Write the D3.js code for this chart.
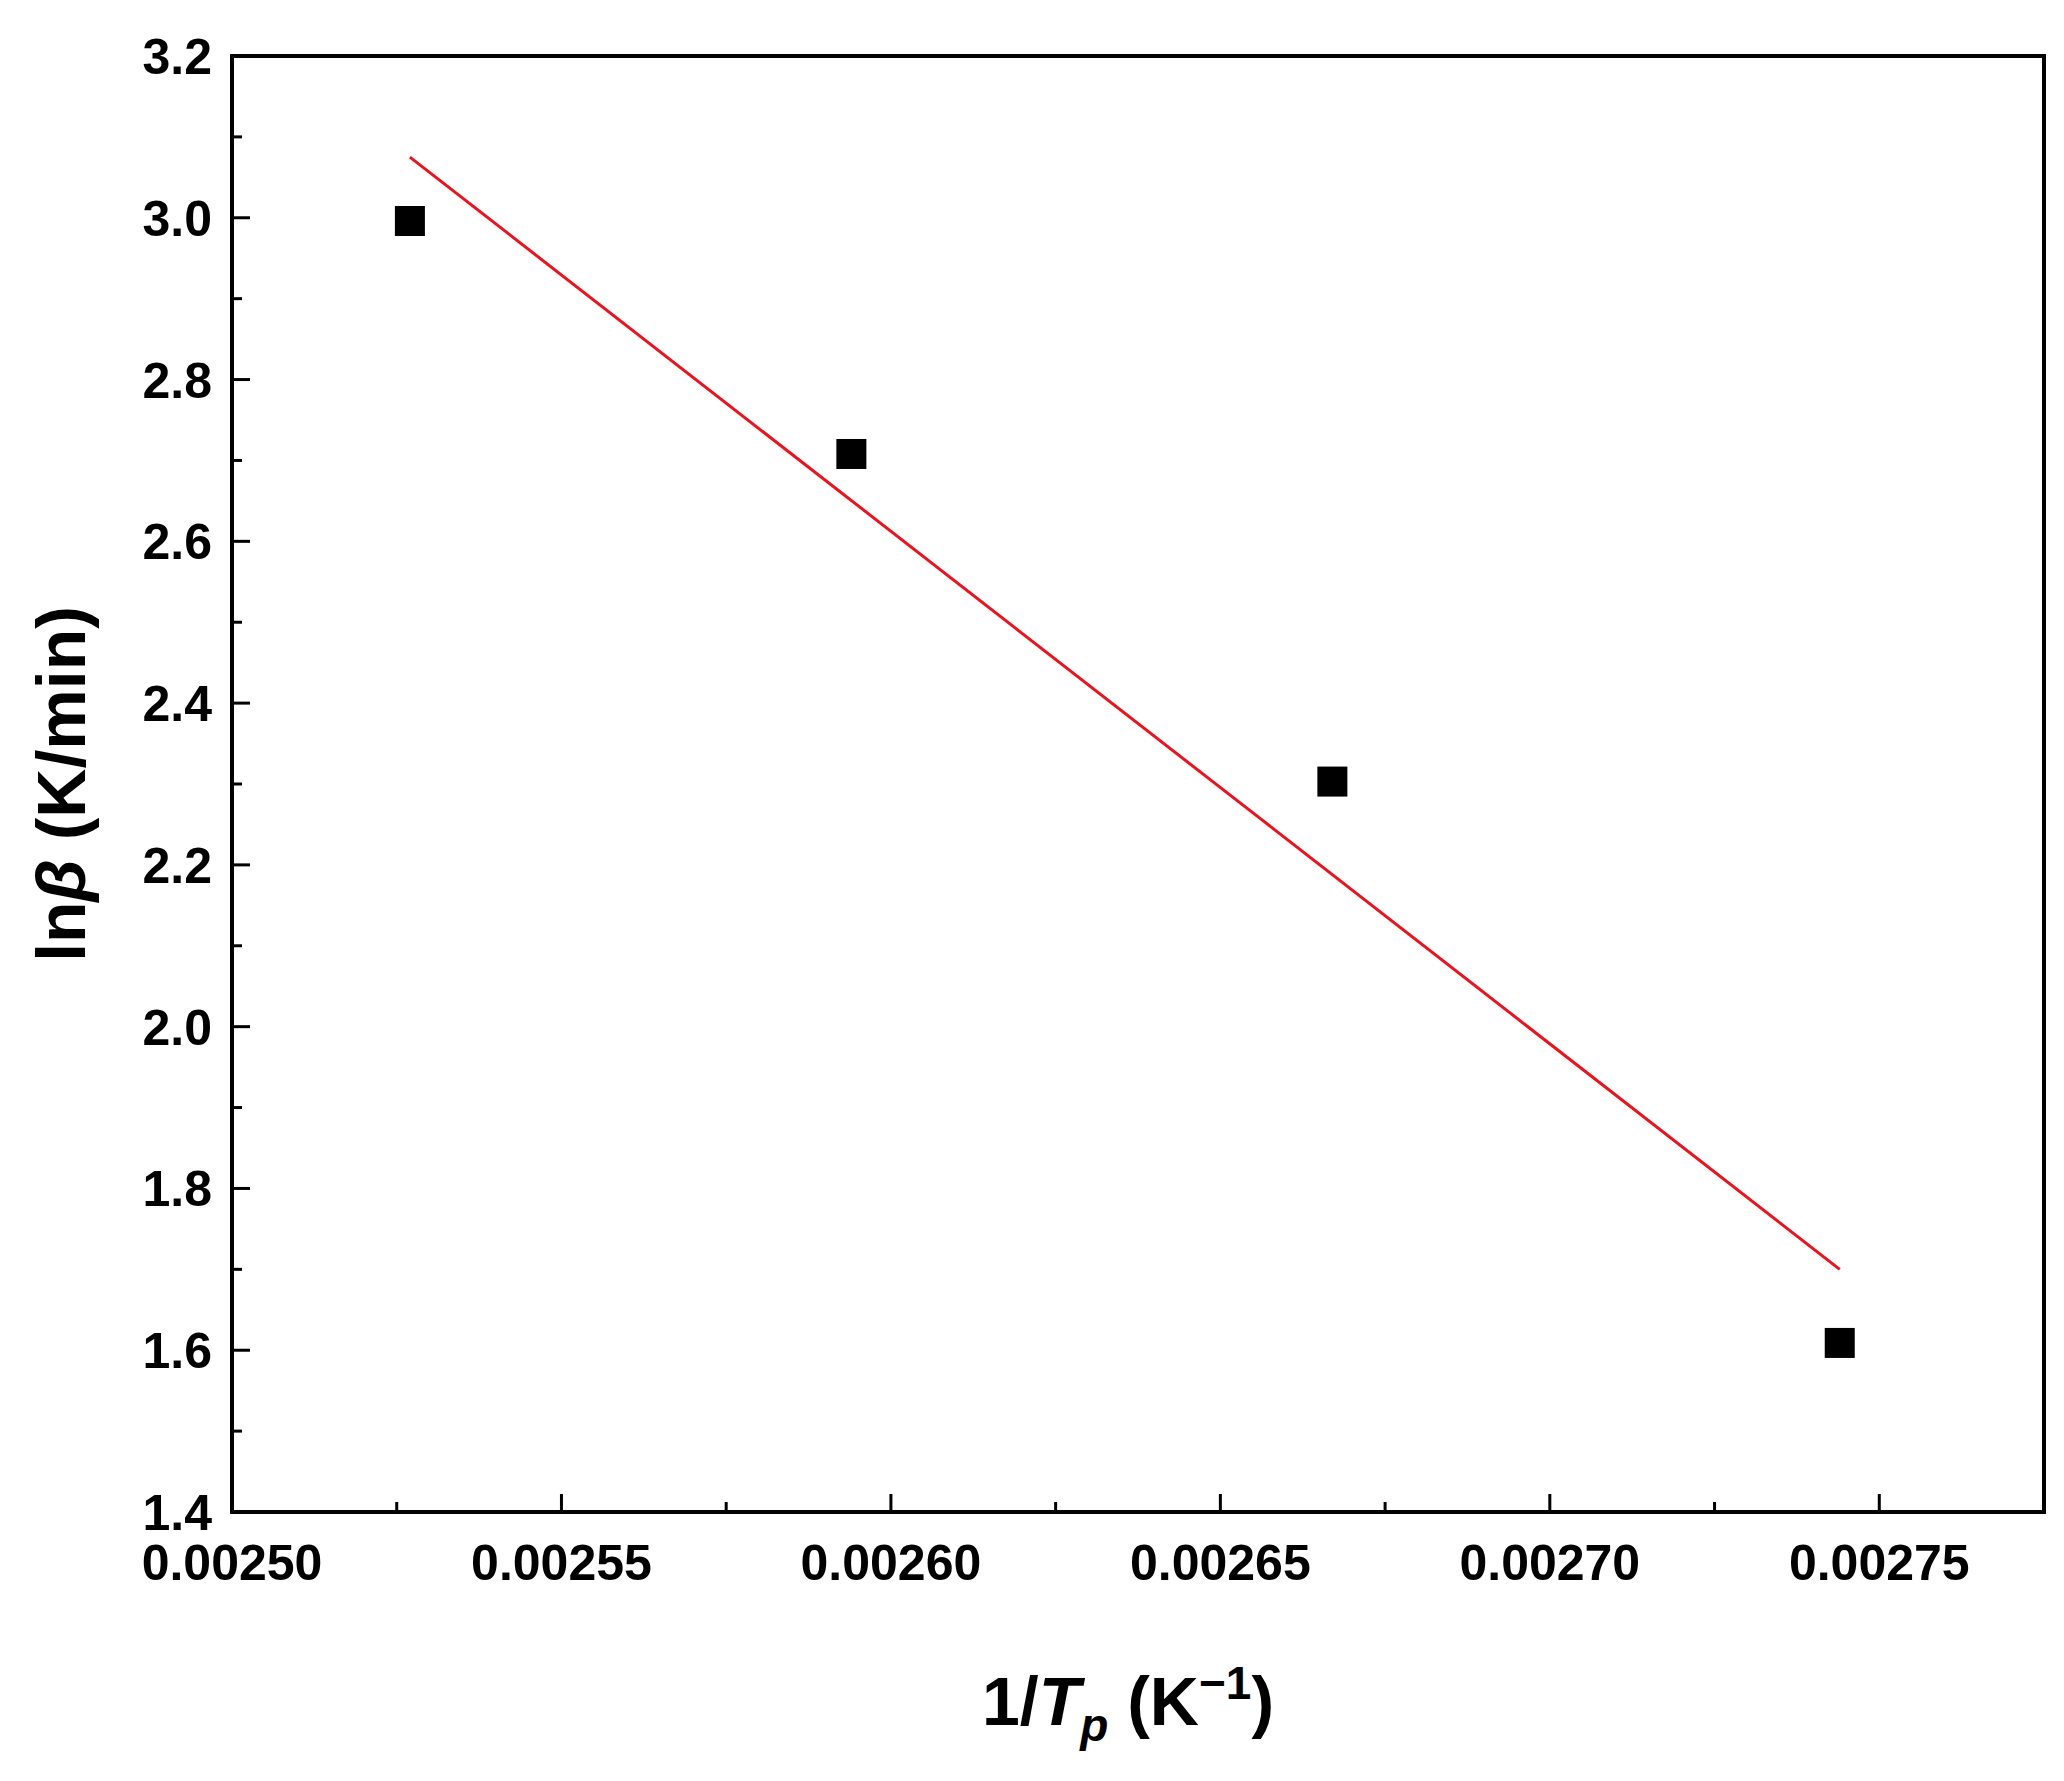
<!DOCTYPE html>
<html><head><meta charset="utf-8">
<script src="https://cdn.jsdelivr.net/npm/d3@7"></script>
<style>body{margin:0;background:#fff}</style></head>
<body><svg id="c" width="2064" height="1781"></svg>
<script>
const xVals=[0.002527,0.002594,0.002667,0.002744];
const yVals=[2.996,2.708,2.303,1.609];
const fitX=[0.002527,0.002744];
const fitY=[3.075,1.700];
const xTicks=[0.00250,0.00255,0.00260,0.00265,0.00270,0.00275];
const yTicks=[1.4,1.6,1.8,2.0,2.2,2.4,2.6,2.8,3.0,3.2];

const svg=d3.select("#c");
const L=232,R=2044,T=56,B=1512;
const x=d3.scaleLinear().domain([0.00250,0.002775]).range([L,R]);
const y=d3.scaleLinear().domain([1.4,3.2]).range([B,T]);
const font="'Liberation Sans',Arial,sans-serif";

const xMinor=d3.range(0,11).map(i=>0.002525+i*0.00005).filter(v=>v<0.002775);
const yMinor=d3.range(0,9).map(i=>1.5+i*0.2);
const g=svg.append("g");
g.selectAll(".xm").data(xMinor).join("line").attr("x1",d=>x(d)).attr("x2",d=>x(d)).attr("y1",B).attr("y2",B-10).attr("stroke","#000").attr("stroke-width",3);
g.selectAll(".xM").data(xTicks).join("line").attr("x1",d=>x(d)).attr("x2",d=>x(d)).attr("y1",B).attr("y2",B-18).attr("stroke","#000").attr("stroke-width",3);
g.selectAll(".ym").data(yMinor).join("line").attr("y1",d=>y(d)).attr("y2",d=>y(d)).attr("x1",L).attr("x2",L+10).attr("stroke","#000").attr("stroke-width",3);
g.selectAll(".yM").data(yTicks).join("line").attr("y1",d=>y(d)).attr("y2",d=>y(d)).attr("x1",L).attr("x2",L+18).attr("stroke","#000").attr("stroke-width",3);

g.selectAll(".xl").data(xTicks).join("text").attr("x",d=>x(d)).attr("y",B+68).attr("text-anchor","middle")
 .attr("font-family",font).attr("font-weight","bold").attr("font-size",50).text(d=>d.toFixed(5));
g.selectAll(".yl").data(yTicks).join("text").attr("x",L-20).attr("y",d=>y(d)+18).attr("text-anchor","end")
 .attr("font-family",font).attr("font-weight","bold").attr("font-size",50).text(d=>d.toFixed(1));

svg.append("rect").attr("x",L).attr("y",T).attr("width",R-L).attr("height",B-T).attr("fill","none").attr("stroke","#000").attr("stroke-width",4);

svg.append("line").attr("x1",x(fitX[0])).attr("y1",y(fitY[0])).attr("x2",x(fitX[1])).attr("y2",y(fitY[1])).attr("stroke","#e8141e").attr("stroke-width",3);

svg.selectAll(".pt").data(xVals).join("rect").attr("x",(d,i)=>x(d)-15).attr("y",(d,i)=>y(yVals[i])-15).attr("width",30).attr("height",30).attr("fill","#000");

const xt=svg.append("text").attr("x",(L+R)/2-10).attr("y",1725).attr("text-anchor","middle").attr("font-family",font).attr("font-weight","bold").attr("font-size",68);
xt.append("tspan").text("1/");
xt.append("tspan").attr("font-style","italic").text("T");
xt.append("tspan").attr("font-style","italic").attr("font-size",46).attr("dy",16).text("p");
xt.append("tspan").attr("dy",-16).text(" (K");
xt.append("tspan").attr("font-size",46).attr("dy",-26).text("−1");
xt.append("tspan").attr("dy",26).text(")");

const yt=svg.append("text").attr("transform",`translate(85,${(T+B)/2}) rotate(-90)`).attr("text-anchor","middle").attr("font-family",font).attr("font-weight","bold").attr("font-size",68);
yt.append("tspan").text("ln");
yt.append("tspan").attr("font-style","italic").text("β");
yt.append("tspan").text(" (K/min)");
</script></body></html>
